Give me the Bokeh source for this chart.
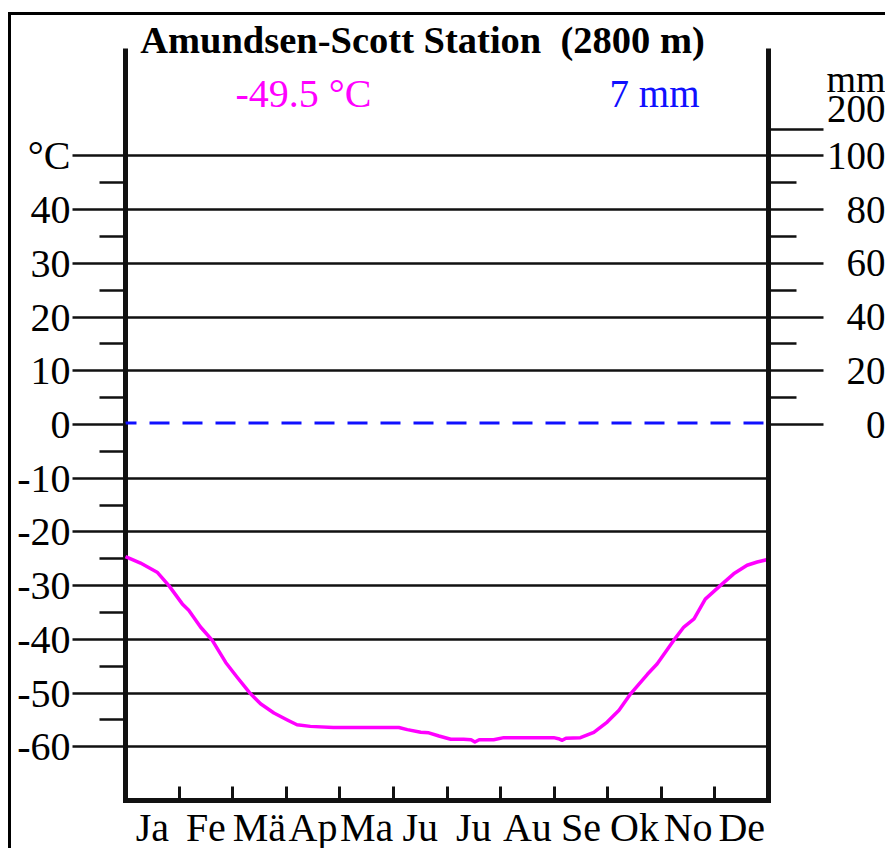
from bokeh.plotting import figure
from bokeh.models import Range1d, LinearAxis, FixedTicker, Label
from bokeh.embed import file_html
from bokeh.resources import INLINE

# ---------------- data ----------------
station_title = "Amundsen-Scott Station\u00a0 (2800 m)"
annual_temp_text = "-49.5 °C"
annual_precip_text = "7 mm"

month_labels = ["Ja", "Fe", "Mä", "Ap", "Ma", "Ju", "Ju", "Au", "Se", "Ok", "No", "De"]
month_centers = [0.5, 1.5, 2.5, 3.5, 4.5, 5.5, 6.5, 7.5, 8.5, 9.5, 10.5, 11.5]
month_bounds = [1, 2, 3, 4, 5, 6, 7, 8, 9, 10, 11]

temp_major = [-60, -50, -40, -30, -20, -10, 0, 10, 20, 30, 40, 50]
temp_minor = [-55, -45, -35, -25, -15, -5, 5, 15, 25, 35, 45]
temp_labels = ["-60", "-50", "-40", "-30", "-20", "-10", "0", "10", "20", "30", "40", "°C"]

precip_major_mm = [0, 20, 40, 60, 80, 100]
precip_minor_mm = [10, 30, 50, 70, 90]
precip_labels = ["0", "20", "40", "60", "80", "100"]
precip_top_mm = 200
precip_top_label = "200"
precip_unit = "mm"

# temperature curve (position in months, °C)
temp_month = [0.00, 0.28, 0.59, 0.81, 1.06, 1.18, 1.40, 1.62, 1.87, 2.08, 2.33, 2.52,
              2.77, 3.02, 3.20, 3.45, 3.88, 5.10, 5.26, 5.51, 5.66, 5.85, 6.07, 6.31,
              6.45, 6.52, 6.60, 6.87, 7.06, 7.99, 8.08, 8.15, 8.22, 8.49, 8.74, 8.99,
              9.21, 9.43, 9.74, 9.92, 10.23, 10.42, 10.61, 10.82, 11.10, 11.35, 11.60,
              11.79, 12.00]
temp_values = [-24.6, -25.8, -27.5, -30.0, -33.4, -34.6, -37.7, -40.2, -44.3, -47.0, -50.1, -52.0,
               -53.7, -55.0, -55.9, -56.2, -56.4, -56.4, -56.8, -57.3, -57.4, -58.0, -58.6, -58.6,
               -58.7, -59.1, -58.7, -58.7, -58.3, -58.3, -58.5, -58.8, -58.4, -58.3, -57.3, -55.4,
               -53.2, -50.1, -46.5, -44.6, -40.2, -37.7, -36.2, -32.5, -30.0, -27.8, -26.2,
               -25.6, -25.1]

# monthly precipitation (mm)
precip_values = [0.6, 0.6, 0.6, 0.6, 0.6, 0.6, 0.6, 0.6, 0.6, 0.6, 0.6, 0.6]


def mm_to_axis(mm):
    # Walter-Lieth: 20 mm = 10 °C up to 100 mm, compressed 1:10 above
    return mm / 2.0 if mm <= 100 else 50 + (mm - 100) / 20.0


# ---------------- geometry (canvas pixels) ----------------
W, H = 877, 836                   # canvas size
AREA_L, AREA_R = 114, 757         # diagram left/right edge
AREA_T, AREA_B = 33, 785          # diagram top/bottom edge
X0, X1 = 0, 12                    # months
Y0, Y1 = -70, 70                  # °C
ppx = (AREA_R - AREA_L) / (X1 - X0)
ppy = (AREA_B - AREA_T) / (Y1 - Y0)
x_start = X0 - AREA_L / ppx
x_end = x_start + W / ppx
y_end = Y1 + AREA_T / ppy
y_start = y_end - H / ppy

BLACK = "#111111"
MAGENTA = "#ff00ff"
BLUE = "#1010ff"
SERIF = "Liberation Serif"

p = figure(width=W, height=H,
           x_range=Range1d(x_start, x_end), y_range=Range1d(y_start, y_end),
           output_backend="svg", toolbar_location=None,
           min_border_left=0, min_border_right=0,
           min_border_top=0, min_border_bottom=0)
p.styles = {"border-top": "3px solid black", "border-left": "3px solid black",
            "margin-top": "12px", "margin-left": "8px"}
p.outline_line_color = None
p.background_fill_color = "white"
p.border_fill_color = "white"
p.xgrid.visible = False
p.ygrid.visible = False

# bottom axis: month boundary ticks and month names
xa = p.xaxis[0]
xa.fixed_location = Y0
xa.bounds = (X0, X1)
xa.ticker = FixedTicker(ticks=month_centers, minor_ticks=month_bounds)
xa.major_label_overrides = {c: l for c, l in zip(month_centers, month_labels)}
xa.axis_line_width = 5
xa.axis_line_color = BLACK
xa.axis_line_cap = "square"
xa.major_tick_in = 0
xa.major_tick_out = 0
xa.major_tick_line_color = None
xa.minor_tick_in = 14
xa.minor_tick_out = 0
xa.minor_tick_line_width = 3
xa.minor_tick_line_color = BLACK
xa.major_label_standoff = 4
xa.major_label_text_font = SERIF
xa.major_label_text_font_size = "40px"
xa.major_label_text_color = "black"

# left axis: temperature; major ticks run across the diagram as the horizontal lines
ya = p.yaxis[0]
ya.fixed_location = X0
ya.bounds = (Y0, Y1)
ticks_lines = [t for t in temp_major if t != 0]
ya.ticker = FixedTicker(ticks=ticks_lines, minor_ticks=temp_minor)
ya.major_label_overrides = {t: l for t, l in zip(temp_major, temp_labels) if t != 0}
ya.axis_line_width = 5
ya.axis_line_color = BLACK
ya.major_tick_in = AREA_R - AREA_L
ya.major_tick_out = 53
ya.minor_tick_in = 0
ya.minor_tick_out = 26
ya.major_tick_line_width = 2.5
ya.minor_tick_line_width = 2.5
ya.major_tick_line_color = BLACK
ya.minor_tick_line_color = BLACK
ya.major_label_standoff = 2
ya.major_label_text_font = SERIF
ya.major_label_text_font_size = "40px"
ya.major_label_text_color = "black"
ya.level = "underlay"

# left axis: the 0 °C tick (the line across is the precipitation curve)
ya0 = LinearAxis(fixed_location=X0, bounds=(Y0, Y1),
                 ticker=FixedTicker(ticks=[0], minor_ticks=[]))
ya0.major_label_overrides = {0: temp_labels[temp_major.index(0)]}
ya0.axis_line_color = None
ya0.major_tick_in = 0
ya0.major_tick_out = 53
ya0.major_tick_line_width = 2.5
ya0.major_tick_line_color = BLACK
ya0.major_label_standoff = 2
ya0.major_label_text_font = SERIF
ya0.major_label_text_font_size = "40px"
ya0.major_label_text_color = "black"
p.add_layout(ya0, "left")

# right axis: precipitation
r_major = [mm_to_axis(m) for m in precip_major_mm] + [mm_to_axis(precip_top_mm)]
r_minor = [mm_to_axis(m) for m in precip_minor_mm]
ra = LinearAxis(fixed_location=X1, bounds=(Y0, Y1),
                ticker=FixedTicker(ticks=r_major, minor_ticks=r_minor))
ra.major_label_overrides = {t: "" for t in r_major}
ra.major_label_text_font_size = "1px"
ra.axis_line_width = 5
ra.axis_line_color = BLACK
ra.major_tick_in = 0
ra.major_tick_out = 55
ra.minor_tick_in = 0
ra.minor_tick_out = 28
ra.major_tick_line_width = 2.5
ra.minor_tick_line_width = 2.5
ra.major_tick_line_color = BLACK
ra.minor_tick_line_color = BLACK
p.add_layout(ra, "right")

# precipitation curve (dashed blue), extended to diagram edges
px = [X0] + month_centers + [X1]
py = [mm_to_axis(v) for v in [precip_values[0]] + precip_values + [precip_values[-1]]]
p.line(px, py, line_color=BLUE, line_width=3, line_dash="20 13", line_dash_offset=9)

# temperature curve
p.line(temp_month, temp_values, line_color=MAGENTA, line_width=3.5, line_join="round")

# right-side labels (right aligned)
for mm, lab in zip(precip_major_mm, precip_labels):
    p.add_layout(Label(x=X1, y=mm_to_axis(mm), x_offset=117, y_offset=0, text=lab,
                       text_align="right", text_baseline="alphabetic",
                       text_font=SERIF, text_font_size="39px", text_color="black"))
p.add_layout(Label(x=X1, y=mm_to_axis(precip_top_mm), x_offset=117, y_offset=20,
                   text=precip_top_label, text_align="right", text_baseline="alphabetic",
                   text_font=SERIF, text_font_size="39px", text_color="black"))
p.add_layout(Label(x=X1, y=mm_to_axis(precip_top_mm), x_offset=117, y_offset=50,
                   text=precip_unit, text_align="right", text_baseline="alphabetic",
                   text_font=SERIF, text_font_size="38px", text_color="black"))

# title and annual values
p.add_layout(Label(x=X0, y=Y1, x_offset=297, y_offset=8.5, text=station_title,
                   text_align="center", text_baseline="alphabetic", text_font=SERIF,
                   text_font_style="bold", text_font_size="38.5px", text_color="black"))
p.add_layout(Label(x=X0, y=Y1, x_offset=178, y_offset=-45, text=annual_temp_text,
                   text_align="center", text_baseline="alphabetic", text_font=SERIF,
                   text_font_size="40px", text_color=MAGENTA))
p.add_layout(Label(x=X0, y=Y1, x_offset=529, y_offset=-45, text=annual_precip_text,
                   text_align="center", text_baseline="alphabetic", text_font=SERIF,
                   text_font_size="39px", text_color=BLUE))

open("out.html", "w").write(file_html(p, INLINE))
